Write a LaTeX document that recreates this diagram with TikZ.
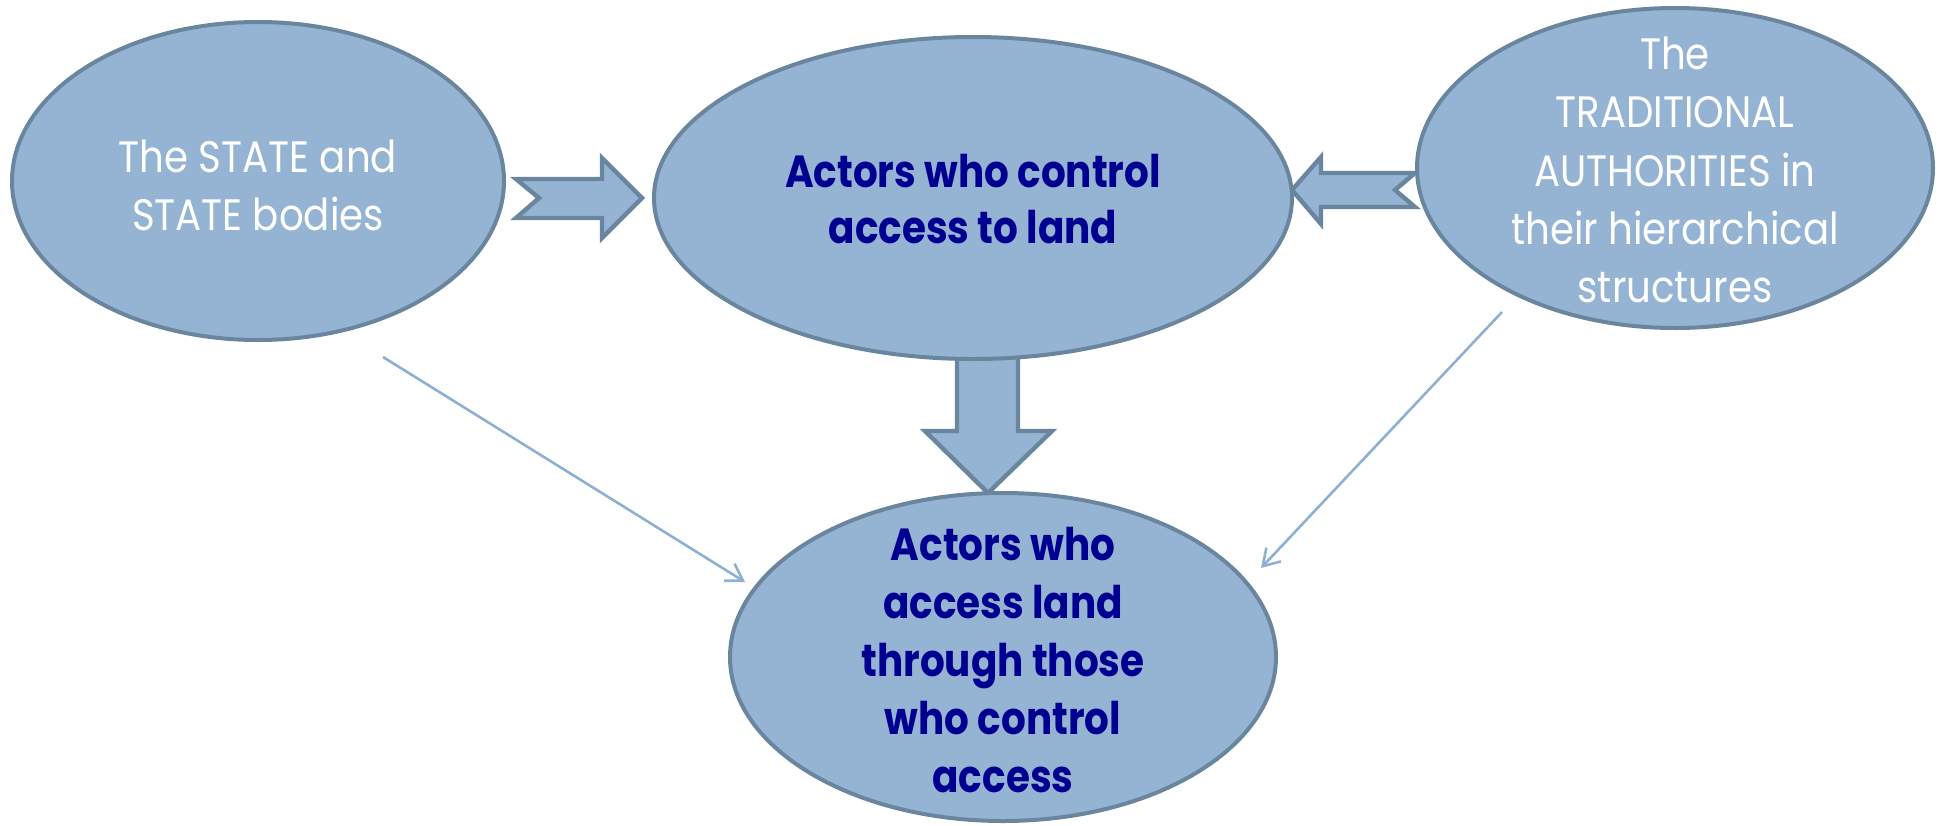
\documentclass[tikz,border=0pt]{standalone}
\usepackage{fontspec}
\usetikzlibrary{shapes.geometric,arrows.meta}
\newfontfamily\diafont{Poppins}[FakeStretch=0.865]
\newfontfamily\lightfont{Poppins}[FakeStretch=0.88]
\definecolor{efill}{RGB}{149,179,211}
\definecolor{estroke}{RGB}{106,133,158}
\definecolor{navytext}{RGB}{0,0,144}
\definecolor{thinline}{RGB}{141,176,211}
\begin{document}
\begin{tikzpicture}[x=0.5pt,y=-0.5pt,
  blob/.style={ellipse, draw=estroke, fill=efill, line width=2pt, inner sep=0pt},
  blockarrow/.style={draw=estroke, fill=efill, line width=2.2pt, line join=miter},
  lighttext/.style={text=white, align=center, inner sep=0pt, font=\lightfont\fontsize{22}{29}\selectfont},
  darktext/.style={text=navytext, align=center, inner sep=0pt, font=\diafont\bfseries\fontsize{22.5}{29}\selectfont},
  thinarrow/.style={draw=thinline, line width=1.3pt, -{Straight Barb[length=8pt,width=10pt]}}]
\useasboundingbox (0,0) rectangle (1939,825);
% block arrows (drawn below the ellipses)
\draw[blockarrow] (516,179) -- (602,179) -- (602,158) -- (642,198) -- (602,238) -- (602,218) -- (516,218) -- (539,198) -- cycle;
\draw[blockarrow] (1415,173) -- (1321,173) -- (1321,157) -- (1292,190) -- (1321,224) -- (1321,207) -- (1415,207) -- (1395,190) -- cycle;
\draw[blockarrow] (957,340) -- (1018,340) -- (1018,431) -- (1052,431) -- (988,493) -- (925,431) -- (957,431) -- cycle;
% ellipses
\node[blob, minimum width=246pt, minimum height=159pt] (state) at (258,181) {};
\node[blob, minimum width=319pt, minimum height=161pt] (control) at (973,198) {};
\node[blob, minimum width=258pt, minimum height=160pt] (trad) at (1675,168) {};
\node[blob, minimum width=273pt, minimum height=164pt] (access) at (1003,657) {};
% texts
\node[lighttext] (statetxt) at ([yshift=-2pt]state.center) {The STATE and\\STATE bodies};
\node[darktext, font=\diafont\bfseries\fontsize{22.5}{28}\selectfont] (controltxt) at ([yshift=-0.5pt]control.center) {Actors who control\\access to land};
\node[lighttext, font=\lightfont\fontsize{22}{29.2}\selectfont] (tradtxt) at ([yshift=-1pt]trad.center) {The\\TRADITIONAL\\AUTHORITIES in\\their hierarchical\\structures};
\node[darktext] (accesstxt) at ([yshift=-1.5pt]access.center) {Actors who\\access land\\through those\\who control\\access};
% thin connectors
\coordinate (s1) at (383,357);
\coordinate (e1) at (745,582);
\coordinate (s2) at (1502,312);
\coordinate (e2) at (1261,568);
\draw[thinarrow] (s1) -- (e1);
\draw[thinarrow] (s2) -- (e2);
\end{tikzpicture}
\end{document}
